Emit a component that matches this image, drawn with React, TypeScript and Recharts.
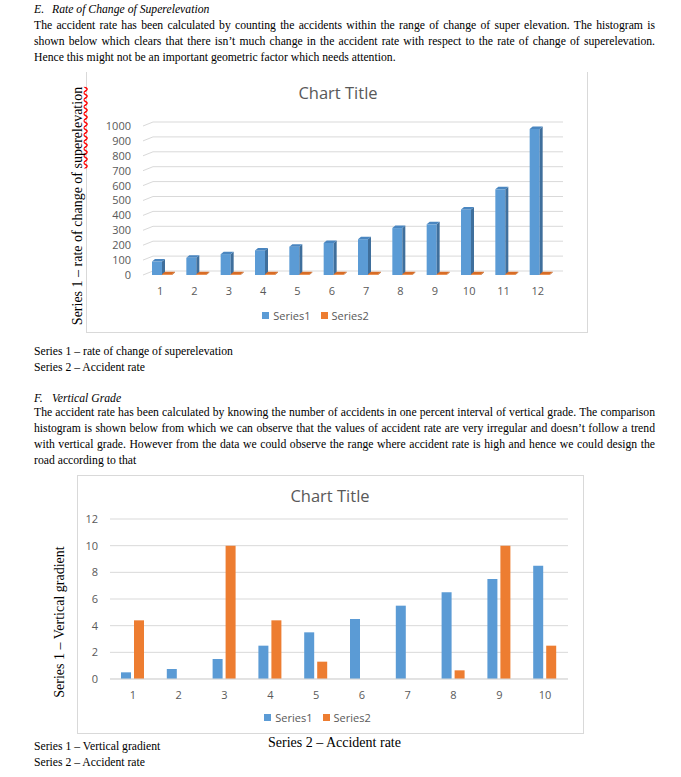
import React from 'react';
import { BarChart, Bar, XAxis, YAxis, CartesianGrid, Legend } from 'recharts';

// ---------- Chart 1: rate of change of superelevation ----------
const superCategories = ['1', '2', '3', '4', '5', '6', '7', '8', '9', '10', '11', '12'];
const superSeries1 = [90, 115, 140, 165, 190, 215, 240, 315, 340, 440, 575, 980];
const superSeries2 = [5, 5, 5, 5, 5, 5, 5, 5, 5, 5, 5, 5];
const superTicks = [0, 100, 200, 300, 400, 500, 600, 700, 800, 900, 1000];

// ---------- Chart 2: vertical grade ----------
const gradeCategories = ['1', '2', '3', '4', '5', '6', '7', '8', '9', '10'];
const gradeSeries1 = [0.5, 0.75, 1.5, 2.5, 3.5, 4.5, 5.5, 6.5, 7.5, 8.5];
const gradeSeries2 = [4.4, 0, 10, 4.4, 1.3, 0, 0, 0.65, 10, 2.5];
const gradeTicks = [0, 2, 4, 6, 8, 10, 12];

const superData = superCategories.map((c, i) => ({ cat: c, Series1: superSeries1[i], Series2: superSeries2[i] }));
const gradeData = gradeCategories.map((c, i) => ({ cat: c, Series1: gradeSeries1[i], Series2: gradeSeries2[i] }));

const BLUE = '#5b9bd5';
const ORANGE = '#ed7d31';
const GRID = '#d9d9d9';
const AXIS_TEXT = '#595959';
const CHART_FONT = '"Open Sans", "Liberation Sans", sans-serif';
const SERIF = '"Liberation Serif", "Times New Roman", serif';

const make3D = (front: string, side: string, top: string) => (props: any) => {
  const { x, y, width, height } = props;
  if (x == null || y == null) return <g />;
  const d = 3;
  const r = 2.5;
  const h = Math.max(height || 0, 0);
  const fx = x + 2;
  return (
    <g>
      <rect x={fx} y={y} width={width} height={h} fill={front} />
      <polygon
        points={`${fx + width},${y} ${fx + width + d},${y - r} ${fx + width + d},${y + h - r} ${fx + width},${y + h}`}
        fill={side}
      />
      <polygon
        points={`${fx},${y} ${fx + d},${y - r} ${fx + width + d},${y - r} ${fx + width},${y}`}
        fill={top}
      />
    </g>
  );
};

const blue3D = make3D(BLUE, '#3f6f9c', '#4a86c0');
const orange3D = make3D(ORANGE, '#b3591f', '#d86c25');

const gridLine3D = (props: any) => {
  const { x1, y1, x2, key } = props;
  return (
    <path
      key={key}
      d={`M${x1},${y1} L${x1 + 10},${y1 - 4} L${x2 + 8},${y1 - 4}`}
      stroke={GRID}
      strokeWidth={1}
      fill="none"
    />
  );
};

const legendFormatter = (value: string) => (
  <span style={{ color: AXIS_TEXT, fontSize: 11 }}>{value}</span>
);

const abs = (left: number, top: number, extra: React.CSSProperties = {}): React.CSSProperties => ({
  position: 'absolute',
  left,
  top,
  ...extra,
});

const bodyText: React.CSSProperties = {
  fontFamily: SERIF,
  fontSize: 11.7,
  lineHeight: '16px',
  color: '#000',
  whiteSpace: 'nowrap',
};

const justified: React.CSSProperties = {
  width: 621,
  textAlign: 'justify',
  textAlignLast: 'justify',
};

const Rotated = ({ cx, cy, children }: { cx: number; cy: number; children: React.ReactNode }) => (
  <div
    style={{
      position: 'absolute',
      left: cx,
      top: cy,
      transform: 'translate(-50%, -50%) rotate(-90deg)',
      fontFamily: SERIF,
      fontSize: 14,
      whiteSpace: 'nowrap',
      lineHeight: '16px',
      color: '#000',
    }}
  >
    {children}
  </div>
);

const ChartTitle = ({ cx, cy }: { cx: number; cy: number }) => (
  <div
    style={{
      position: 'absolute',
      left: cx,
      top: cy,
      transform: 'translate(-50%, -50%)',
      fontFamily: CHART_FONT,
      fontSize: 16.5,
      color: AXIS_TEXT,
      whiteSpace: 'nowrap',
    }}
  >
    Chart Title
  </div>
);

export default function App() {
  return (
    <div style={{ position: 'absolute', left: 0, top: 0, width: 681, height: 777, background: '#fff', overflow: 'hidden' }}>
      {/* Section E text */}
      <div style={abs(34, 2, { ...bodyText, fontStyle: 'italic' })}>
        <span style={{ display: 'inline-block', width: 18 }}>E.</span>Rate of Change of Superelevation
      </div>
      <div style={abs(34, 18, { ...bodyText, ...justified })}>
        The accident rate has been calculated by counting the accidents within the range of change of super elevation. The histogram is
      </div>
      <div style={abs(34, 34, { ...bodyText, ...justified })}>
        shown below which clears that there isn’t much change in the accident rate with respect to the rate of change of superelevation.
      </div>
      <div style={abs(34, 50, bodyText)}>
        Hence this might not be an important geometric factor which needs attention.
      </div>

      {/* Chart 1 frame */}
      <div
        style={abs(86, 72, {
          width: 502,
          height: 261,
          borderLeft: `1px solid ${GRID}`,
          borderRight: `1px solid ${GRID}`,
          borderBottom: `1px solid ${GRID}`,
          boxSizing: 'border-box',
        })}
      />
      <div style={abs(86, 75, { fontFamily: CHART_FONT })}>
        <BarChart
          width={502}
          height={258}
          data={superData}
          margin={{ top: 51, right: 33, bottom: 0, left: 0 }}
          barGap={0}
          barSize={10}
        >
          <CartesianGrid vertical={false} horizontal={gridLine3D} />
          <XAxis
            dataKey="cat"
            axisLine={false}
            tickLine={false}
            height={58}
            tickMargin={6}
            interval={0}
            tick={{ fontSize: 11, fill: AXIS_TEXT }}
          />
          <YAxis
            domain={[0, 1000]}
            ticks={superTicks}
            width={57}
            axisLine={false}
            tickLine={false}
            tickMargin={6}
            interval={0}
            tick={{ fontSize: 11, fill: AXIS_TEXT }}
          />
          <Legend
            layout="horizontal"
            verticalAlign="middle"
            align="center"
            iconType="square"
            iconSize={7}
            formatter={legendFormatter}
            wrapperStyle={{ top: 232, bottom: 'auto', lineHeight: '14px' }}
          />
          <Bar dataKey="Series1" fill={BLUE} shape={blue3D} isAnimationActive={false} />
          <Bar dataKey="Series2" fill={ORANGE} shape={orange3D} isAnimationActive={false} />
        </BarChart>
      </div>
      <ChartTitle cx={338} cy={92} />
      <Rotated cx={78} cy={206}>
        Series 1 – rate of change of{' '}
        <span style={{ textDecoration: 'underline wavy red', textDecorationSkipInk: 'none' as any, textUnderlineOffset: 1 }}>
          superelevation
        </span>
      </Rotated>

      <div style={abs(34, 344, bodyText)}>Series 1 – rate of change of superelevation</div>
      <div style={abs(34, 360, bodyText)}>Series 2 – Accident rate</div>

      {/* Section F text */}
      <div style={abs(34, 391, { ...bodyText, fontStyle: 'italic' })}>
        <span style={{ display: 'inline-block', width: 18 }}>F.</span>Vertical Grade
      </div>
      <div style={abs(34, 405, { ...bodyText, ...justified })}>
        The accident rate has been calculated by knowing the number of accidents in one percent interval of vertical grade. The comparison
      </div>
      <div style={abs(34, 421, { ...bodyText, ...justified })}>
        histogram is shown below from which we can observe that the values of accident rate are very irregular and doesn’t follow a trend
      </div>
      <div style={abs(34, 437, { ...bodyText, ...justified })}>
        with vertical grade. However from the data we could observe the range where accident rate is high and hence we could design the
      </div>
      <div style={abs(34, 453, bodyText)}>road according to that</div>

      {/* Chart 2 frame */}
      <div
        style={abs(77, 475, {
          width: 507,
          height: 259,
          border: `1px solid ${GRID}`,
          boxSizing: 'border-box',
        })}
      />
      <div style={abs(77, 475, { fontFamily: CHART_FONT })}>
        <BarChart
          width={506}
          height={258}
          data={gradeData}
          margin={{ top: 44, right: 15, bottom: 0, left: 0 }}
          barGap={3}
          barSize={10}
        >
          <CartesianGrid vertical={false} stroke={GRID} />
          <XAxis
            dataKey="cat"
            axisLine={{ stroke: GRID }}
            tickLine={false}
            height={54}
            tickMargin={6}
            interval={0}
            tick={{ fontSize: 11, fill: AXIS_TEXT }}
          />
          <YAxis
            domain={[0, 12]}
            ticks={gradeTicks}
            width={33}
            axisLine={false}
            tickLine={false}
            tickMargin={6}
            interval={0}
            tick={{ fontSize: 11, fill: AXIS_TEXT }}
          />
          <Legend
            layout="horizontal"
            verticalAlign="middle"
            align="center"
            iconType="square"
            iconSize={7}
            formatter={legendFormatter}
            wrapperStyle={{ top: 234, bottom: 'auto', lineHeight: '14px' }}
          />
          <Bar dataKey="Series1" fill={BLUE} isAnimationActive={false} />
          <Bar dataKey="Series2" fill={ORANGE} isAnimationActive={false} />
        </BarChart>
      </div>
      <ChartTitle cx={330} cy={495} />
      <Rotated cx={60} cy={622}>Series 1 – Vertical gradient</Rotated>

      <div style={abs(34, 739, bodyText)}>Series 1 – Vertical gradient</div>
      <div style={abs(34, 755, bodyText)}>Series 2 – Accident rate</div>
      <div style={abs(268, 734, { ...bodyText, fontSize: 14, lineHeight: '18px' })}>Series 2 – Accident rate</div>
    </div>
  );
}
